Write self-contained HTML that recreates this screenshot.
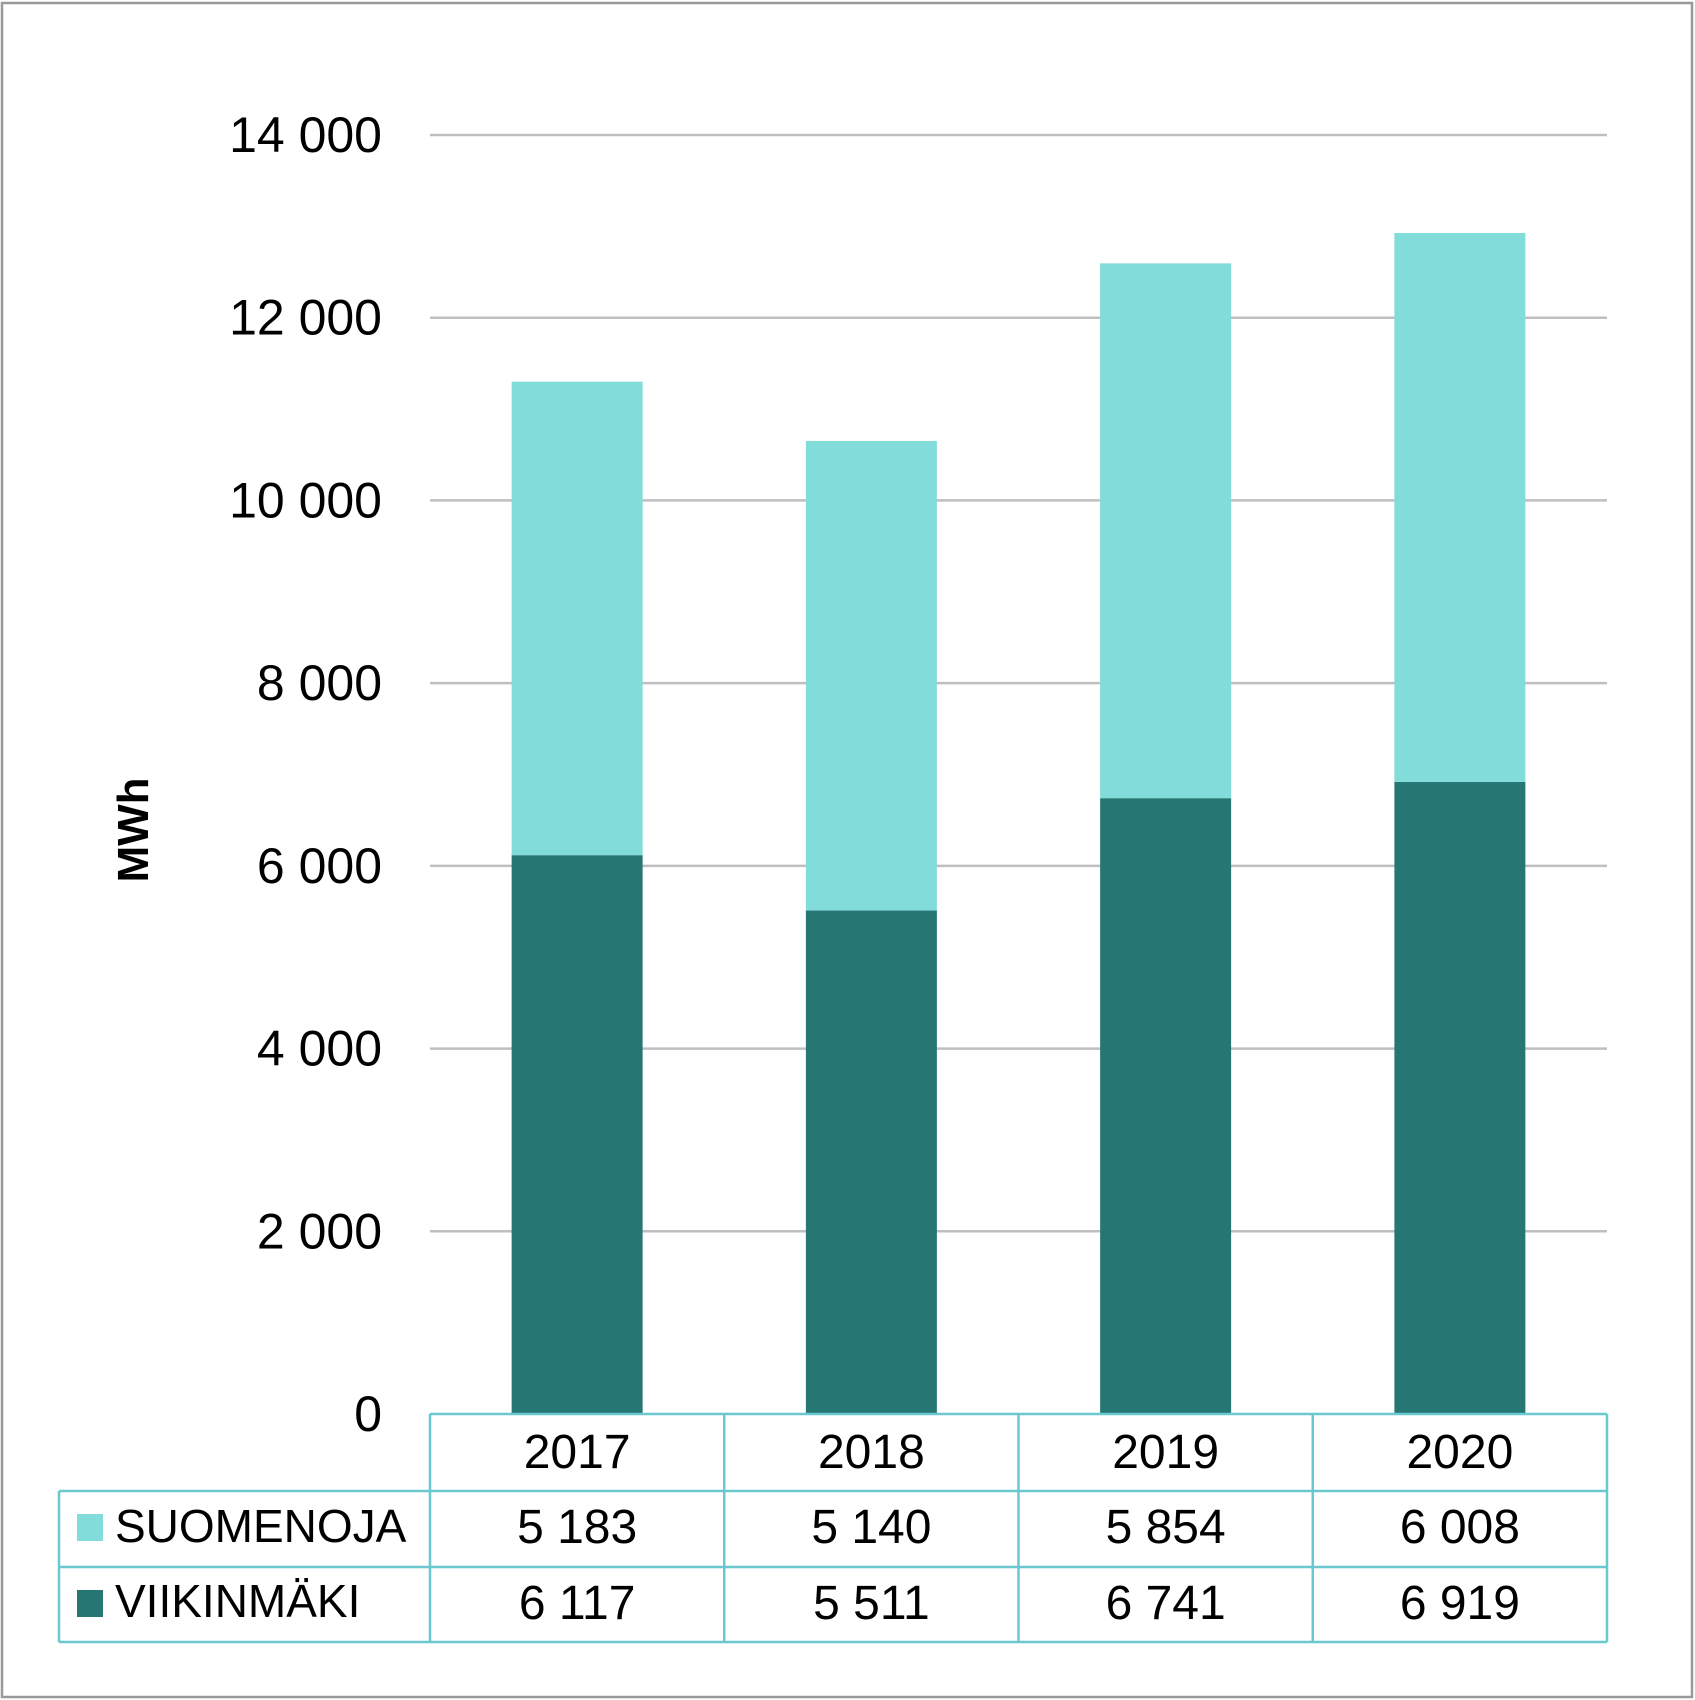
<!DOCTYPE html>
<html><head><meta charset="utf-8"><style>
html,body{margin:0;padding:0;background:#fff}
svg{display:block;font-family:"Liberation Sans",sans-serif}
</style></head><body>
<svg id="chart" width="1695" height="1700" viewBox="0 0 1695 1700">
<rect x="2" y="3" width="1690" height="1694" fill="#fff" stroke="#999" stroke-width="2.5"/>
<g id="grid"></g>
<g id="ylabels"></g>
<g id="bars"></g>
<g id="table"></g>
<text x="0" y="0" transform="translate(148,830) rotate(-90)" text-anchor="middle" font-size="44" font-weight="bold">MWh</text>
</svg>
<script>
const categories = ["2017","2018","2019","2020"];
const suomenoja = [5183,5140,5854,6008];
const viikinmaki = [6117,5511,6741,6919];
const seriesNames = ["SUOMENOJA","VIIKINMÄKI"];
const yTicks = [0,2000,4000,6000,8000,10000,12000,14000];

const NS="http://www.w3.org/2000/svg";
const svg=document.getElementById('chart');
const L=430, R=1607, Y0=1414, Y14=135, yMax=14000;
const y=v=>Y0-(v/yMax)*(Y0-Y14);
const cw=(R-L)/categories.length;
const xc=i=>L+cw*(i+0.5);
const bw=131;
const fmt=v=>{const s=String(v);return s.length>3?s.slice(0,-3)+" "+s.slice(-3):s;};
function mk(tag,attrs,parent){const e=document.createElementNS(NS,tag);for(const k in attrs)e.setAttribute(k,attrs[k]);parent.appendChild(e);return e;}
const grid=document.getElementById('grid'),yl=document.getElementById('ylabels'),bars=document.getElementById('bars'),tbl=document.getElementById('table');
yTicks.forEach(t=>{
  if(t>0){const ln=mk('line',{x1:L,x2:R,y1:y(t),y2:y(t),stroke:'#bfbfbf','stroke-width':2.5},grid);
  
  }
  const tx=mk('text',{x:382,y:y(t)+17,'text-anchor':'end','font-size':50},yl);
  tx.textContent=fmt(t);
  
  
});
categories.forEach((c,i)=>{
  const a=viikinmaki[i],b=suomenoja[i];
  const r1=mk('rect',{x:xc(i)-bw/2,y:y(a),width:bw,height:Y0-y(a),fill:'#267773'},bars);
  
  
  const r2=mk('rect',{x:xc(i)-bw/2,y:y(a+b),width:bw,height:y(a)-y(a+b),fill:'#82dcd9'},bars);
  
  
});
const rows=[1414,1491,1567,1642], tc='#6cc8cf';
function tl(x1,y1,x2,y2){const l=mk('line',{x1,y1,x2,y2,stroke:tc,'stroke-width':2.5},tbl);
  
  }
tl(L,rows[0],R,rows[0]);tl(59,rows[1],R,rows[1]);tl(59,rows[2],R,rows[2]);tl(59,rows[3],R,rows[3]);
tl(59,rows[1],59,rows[3]);
for(let i=0;i<=categories.length;i++)tl(L+cw*i,rows[0],L+cw*i,rows[3]);
categories.forEach((c,i)=>{
  const t=mk('text',{x:xc(i),y:1468,'text-anchor':'middle','font-size':48},tbl);
  t.textContent=c;
  
  
  const v1=mk('text',{x:xc(i),y:1543,'text-anchor':'middle','font-size':48},tbl);
  v1.textContent=fmt(suomenoja[i]);
  
  
  const v2=mk('text',{x:xc(i),y:1619,'text-anchor':'middle','font-size':48},tbl);
  v2.textContent=fmt(viikinmaki[i]);
  
  
});
[['#82dcd9',1514,1542],['#267773',1590,1617]].forEach((s,k)=>{
  const sq=mk('rect',{x:77,y:s[1],width:26,height:27,fill:s[0]},tbl);
  
  
  const t=mk('text',{x:115,y:s[2],'font-size':46},tbl);
  t.textContent=seriesNames[k];
  
  
});
</script>
</body></html>
